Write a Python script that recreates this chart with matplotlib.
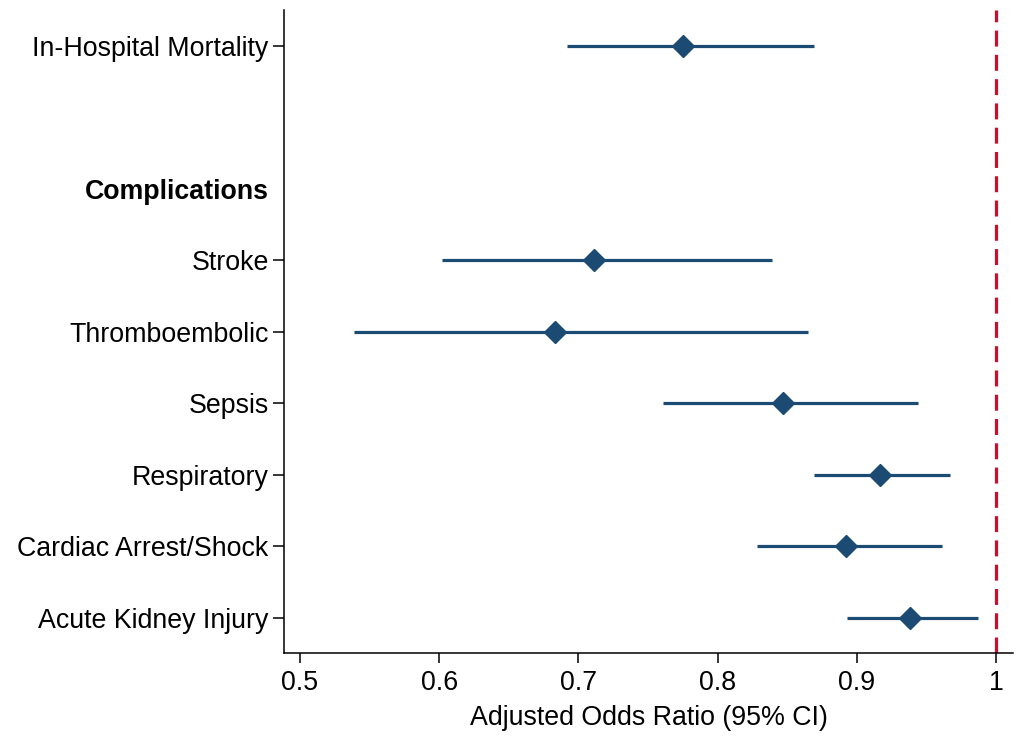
import matplotlib.pyplot as plt

# forest plot: adjusted odds ratios with 95% CI
labels = ["In-Hospital Mortality", "Stroke", "Thromboembolic", "Sepsis",
          "Respiratory", "Cardiac Arrest/Shock", "Acute Kidney Injury"]
rows = [8, 5, 4, 3, 2, 1, 0]
odds = [0.775, 0.711, 0.683, 0.847, 0.917, 0.892, 0.938]
ci_low = [0.692, 0.602, 0.539, 0.761, 0.869, 0.828, 0.893]
ci_high = [0.869, 0.839, 0.865, 0.944, 0.967, 0.961, 0.987]
header = "Complications"
header_row = 6
xticks = [0.5, 0.6, 0.7, 0.8, 0.9, 1.0]
xticklabels = ["0.5", "0.6", "0.7", "0.8", "0.9", "1"]

plt.rcParams['font.family'] = ['Liberation Sans', 'DejaVu Sans']

navy = '#1b4a72'
red = '#c8102e'
fs = 19.3

fig = plt.figure(figsize=(10.19, 7.38), dpi=100)
ax = fig.add_axes([0.2787, 0.1152, 0.994 - 0.2787, 0.9864 - 0.1152])

ax.hlines(rows, ci_low, ci_high, color=navy, lw=2.3, zorder=2)
ax.plot(odds, rows, 'D', color=navy, markersize=11, zorder=3)
ax.axvline(1.0, color=red, lw=2.3, dashes=(5, 2.6), zorder=1)

ax.set_xlim(0.4885, 1.0122)
ax.set_ylim(-0.49, 8.5)

ax.set_xticks(xticks)
ax.set_xticklabels(xticklabels, fontsize=fs)

ytick_pos = rows + [header_row]
ax.set_yticks(ytick_pos)
ax.set_yticklabels(labels + [header], fontsize=fs)
for t, lab in zip(ax.yaxis.get_major_ticks(), ax.get_yticklabels()):
    if lab.get_text() == header:
        t.tick1line.set_visible(False)
        lab.set_fontweight('bold')

ax.tick_params(axis='y', length=8, width=1.1, pad=3, colors='black')
ax.tick_params(axis='x', length=7, width=1.1, pad=5, colors='black')

ax.set_xlabel("Adjusted Odds Ratio (95% CI)", fontsize=fs, labelpad=7)

for side in ['top', 'right']:
    ax.spines[side].set_visible(False)
for side in ['left', 'bottom']:
    ax.spines[side].set_linewidth(1.1)

fig.savefig('out.png', dpi=100)
